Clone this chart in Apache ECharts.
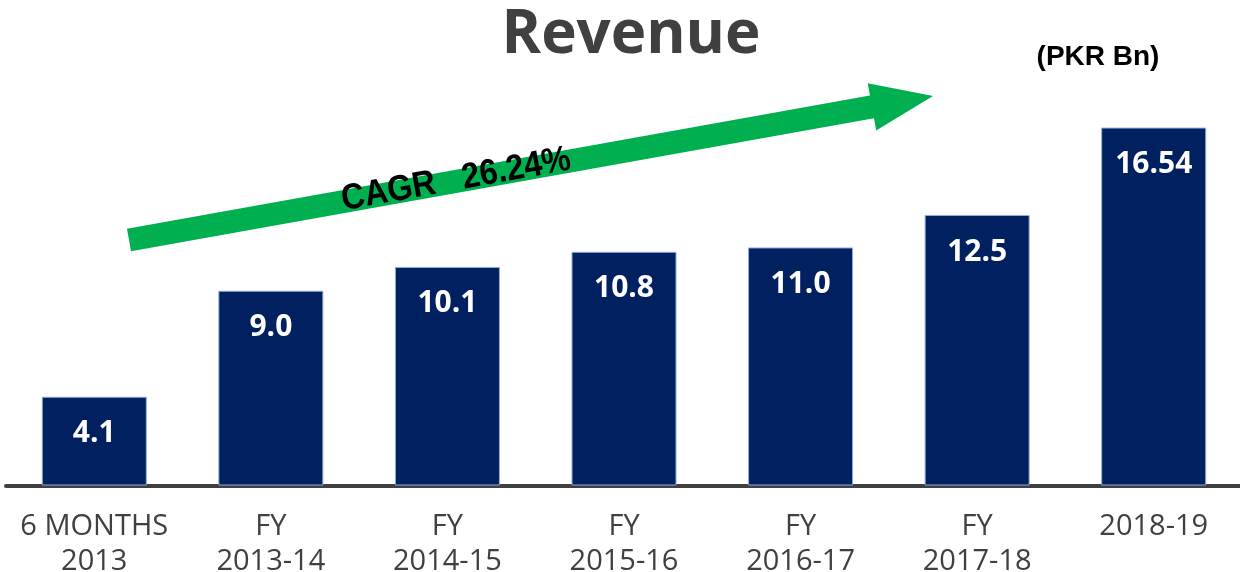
<!DOCTYPE html>
<html><head><meta charset="utf-8">
<script src="https://cdn.jsdelivr.net/npm/echarts@6/dist/echarts.min.js"></script>
<style>html,body{margin:0;padding:0;background:#fff}#c{width:1240px;height:572px}</style>
</head><body><div id="c"></div>
<script>
const categories = ['6 MONTHS\n2013','FY\n2013-14','FY\n2014-15','FY\n2015-16','FY\n2016-17','FY\n2017-18','2018-19\n '];
const revenue = [4.1, 9.0, 10.1, 10.8, 11.0, 12.5, 16.54];
const valueLabels = ['4.1','9.0','10.1','10.8','11.0','12.5','16.54'];
const titleText = 'Revenue';
const unitText = '(PKR Bn)';
const cagrText = 'CAGR   26.24%';

// arrow annotation geometry (decoration)
function arrowPoints(x0,y0,x1,y1,hw,hhw,hl){
  const dx=x1-x0, dy=y1-y0, L=Math.hypot(dx,dy), ux=dx/L, uy=dy/L, nx=-uy, ny=ux;
  const bx=x1-ux*hl, by=y1-uy*hl;
  return [[x0+nx*hw,y0+ny*hw],[bx+nx*hw,by+ny*hw],[bx+nx*hhw,by+ny*hhw],[x1,y1],
          [bx-nx*hhw,by-ny*hhw],[bx-nx*hw,by-ny*hw],[x0-nx*hw,y0-ny*hw]];
}
const ax0=129, ay0=240, ax1=933, ay1=96;
const ang = Math.atan2(-(ay1-ay0), ax1-ax0);

const chart = echarts.init(document.getElementById('c'));
chart.setOption({
  animation:false,
  title:[{text:titleText,left:626,textAlign:'center',top:1,
          textStyle:{fontFamily:'Open Sans',fontWeight:'bold',fontSize:60,color:'#404040'}},
         {text:unitText,left:1093,textAlign:'center',top:38,
          textStyle:{fontFamily:'Liberation Sans',fontWeight:'bold',fontSize:28,color:'#000'}}],
  grid:{left:6,right:-2,top:96,bottom:86.5,containLabel:false,outerBoundsMode:'none'},
  xAxis:{type:'category',data:categories,
    axisLine:{lineStyle:{color:'#404040',width:4}},
    axisTick:{show:false},
    axisLabel:{interval:0,margin:24,color:'#404040',fontFamily:'Open Sans',fontSize:29,lineHeight:35}},
  yAxis:{type:'value',min:0,max:18,show:false,splitLine:{show:false}},
  series:[{type:'bar',data:revenue,barWidth:105,
    itemStyle:{color:'#002060',borderColor:'#8faadc',borderWidth:1},
    label:{show:true,position:'insideTop',distance:22,color:'#fff',fontFamily:'Open Sans',fontWeight:'bold',fontSize:30,
      formatter:p=>valueLabels[p.dataIndex]}}],
  graphic:[
    {type:'polygon',shape:{points:arrowPoints(ax0,ay0,ax1,ay1,11.5,24,62)},style:{fill:'#00b050'}},
    {type:'text',x:456,y:180,rotation:ang,scaleX:0.9,
     style:{text:cagrText,fill:'#000',font:'bold 36px "Liberation Sans Narrow", "Liberation Sans", Arial',
       textAlign:'center',textVerticalAlign:'middle'}}
  ]
});
</script></body></html>
